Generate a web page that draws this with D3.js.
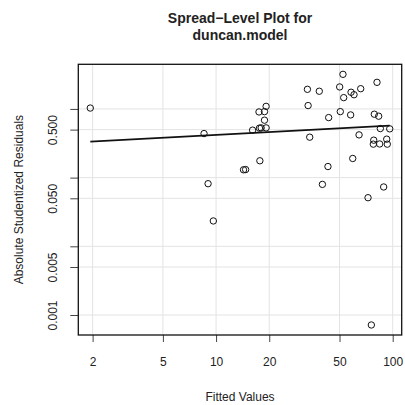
<!DOCTYPE html>
<html>
<head>
<meta charset="utf-8">
<script src="https://cdn.jsdelivr.net/npm/d3@7"></script>
<style>
  body { margin: 0; background: #fff; }
  text { font-family: "Liberation Sans", Arial, Helvetica, sans-serif; }
</style>
</head>
<body>
<div id="chart"></div>
<script>
const WIDTH = 405
const HEIGHT = 405

var margin = {top: 64.3, right: 3.3, bottom: 70, left: 78.3},
    width = WIDTH - margin.left - margin.right,
    height = HEIGHT - margin.top - margin.bottom;

// fitted values (x) and absolute studentized residuals (y)
var fitted = [8.55, 52.3, 32.9, 38.4, 50.1, 52.8, 58.1, 60.4, 65.9, 81.5,
              19.2, 17.5, 18.8, 18.8, 16.1, 17.6, 18.0, 19.2, 33.2, 43.4,
              50.5, 57.8, 78.7, 83.3, 33.9, 64.5, 85.1, 96.2, 78.1, 77.7,
              84.4, 92.5, 93.2, 17.7, 14.3, 14.7, 43.0, 59.4, 9.01, 40.0,
              88.9, 72.5, 1.94, 9.65, 75.7]
var absResid = [0.438, 3.19, 1.93, 1.81, 2.09, 1.46, 1.75, 1.61, 1.97, 2.44,
                1.09, 0.904, 0.914, 0.686, 0.491, 0.525, 0.530, 0.530, 1.12, 0.748,
                0.914, 0.818, 0.838, 0.784, 0.388, 0.419, 0.518, 0.513, 0.351, 0.307,
                0.309, 0.363, 0.307, 0.176, 0.130, 0.131, 0.145, 0.190, 0.0816, 0.0797,
                0.0731, 0.0510, 1.03, 0.0234, 0.000716]

// fitted line (log-log), endpoints
var lineX = [1.94, 96.2]
var lineY = [0.335, 0.573]

var xTicks = [2, 5, 10, 20, 50, 100]
var yTicks = [0.001, 0.005, 0.01, 0.05, 0.1, 0.5, 1]
var yTickLabels = ["0.001", "0.005", "", "0.050", "", "0.500", ""]

// R style 4% padding on a log axis
function logDomain(vals){
	var lo = Math.log10(d3.min(vals)), hi = Math.log10(d3.max(vals))
	var pad = (hi - lo) * 0.04
	return [Math.pow(10, lo - pad), Math.pow(10, hi + pad)]
}

var svg = d3.select("#chart")
	.append("svg")
	.attr("width", WIDTH)
	.attr("height", HEIGHT)

var g = svg.append("g")
	.attr("transform", "translate(" + margin.left + "," + margin.top + ")");

var x = d3.scaleLog().domain(logDomain(fitted)).range([0, width])
var y = d3.scaleLog().domain(logDomain(absResid)).range([height, 0])

// grid
g.selectAll(".gx").data(xTicks).enter().append("line")
	.attr("x1", d => x(d)).attr("x2", d => x(d))
	.attr("y1", 0).attr("y2", height)
	.attr("stroke", "#e3e3e3").attr("stroke-width", 1)
g.selectAll(".gy").data(yTicks).enter().append("line")
	.attr("x1", 0).attr("x2", width)
	.attr("y1", d => y(d)).attr("y2", d => y(d))
	.attr("stroke", "#e3e3e3").attr("stroke-width", 1)

// axes
var xAxis = g.append("g")
	.attr("transform", "translate(0," + height + ")")
	.call(d3.axisBottom(x).tickValues(xTicks).tickFormat(d3.format("d")).tickSize(7).tickPadding(15))
var yAxis = g.append("g")
	.call(d3.axisLeft(y).tickValues(yTicks).tickFormat((d, i) => yTickLabels[i]).tickSize(8))

xAxis.select(".domain").remove()
yAxis.select(".domain").remove()
g.selectAll(".tick line").attr("stroke", "#444")
xAxis.selectAll("text").attr("font-size", 12).attr("fill", "#222")
	.attr("font-family", "Liberation Sans, Arial, sans-serif")
yAxis.selectAll(".tick text")
	.attr("font-size", 12).attr("fill", "#222")
	.attr("font-family", "Liberation Sans, Arial, sans-serif")
	.attr("text-anchor", "middle")
	.attr("dy", 0)
	.attr("x", 0)
	.attr("transform", "translate(-21,0) rotate(-90)")

// fitted line
g.append("line")
	.attr("x1", x(lineX[0])).attr("y1", y(lineY[0]))
	.attr("x2", x(lineX[1])).attr("y2", y(lineY[1]))
	.attr("stroke", "#111").attr("stroke-width", 1.8)

// points
g.selectAll("circle").data(fitted).enter().append("circle")
	.attr("cx", d => x(d))
	.attr("cy", (d, i) => y(absResid[i]))
	.attr("r", 3.2)
	.attr("fill", "none")
	.attr("stroke", "#111")
	.attr("stroke-width", 1)

// box
g.append("rect")
	.attr("width", width).attr("height", height)
	.attr("fill", "none").attr("stroke", "#111").attr("stroke-width", 1.3)

// labels
svg.append("text")
	.attr("x", margin.left + width / 2).attr("y", 401)
	.attr("text-anchor", "middle").attr("font-size", 12).attr("fill", "#222")
	.text("Fitted Values")

svg.append("text")
	.attr("transform", "translate(23," + (margin.top + height / 2) + ") rotate(-90)")
	.attr("text-anchor", "middle").attr("font-size", 12).attr("fill", "#222")
	.text("Absolute Studentized Residuals")

svg.append("text")
	.attr("x", margin.left + width / 2).attr("y", 23)
	.attr("text-anchor", "middle").attr("font-size", 14).attr("font-weight", "bold").attr("fill", "#222")
	.text("Spread\u2212Level Plot for")
svg.append("text")
	.attr("x", margin.left + width / 2).attr("y", 40)
	.attr("text-anchor", "middle").attr("font-size", 14).attr("font-weight", "bold").attr("fill", "#222")
	.text("duncan.model")
</script>
</body>
</html>
